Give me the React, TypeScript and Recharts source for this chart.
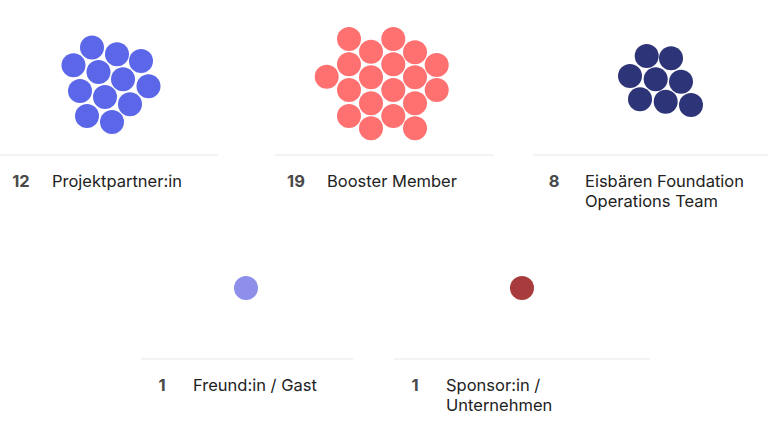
import { ScatterChart, Scatter, XAxis, YAxis, ReferenceLine } from 'recharts';

// Group counts and labels
const categories = ['Projektpartner:in', 'Booster Member', 'Eisbären Foundation Operations Team', 'Freund:in / Gast', 'Sponsor:in / Unternehmen'];
const labelLines = [
  ['Projektpartner:in'],
  ['Booster Member'],
  ['Eisbären Foundation', 'Operations Team'],
  ['Freund:in / Gast'],
  ['Sponsor:in /', 'Unternehmen'],
];
const counts = [12, 19, 8, 1, 1];
const colors = ['#5B67E8', '#FF7171', '#2E3478', '#8E8FEA', '#A83B3B'];

// Packed dot offsets per group, relative to the group's centre
const dotsProjekt = [
  [-17, -35.4], [8, -28.7], [32, -22], [-35.5, -17.7], [-10.5, -11], [14, -3.7],
  [39.5, 3.3], [-29, 8], [-4, 14], [21, 21.3], [-22, 33], [3, 39],
];
const dotsBooster = [
  [-36, -44], [8.3, -44], [-14, -31.3], [30, -30.7], [-36, -18.7], [8.3, -18.7],
  [51.7, -18], [-58.3, -6.3], [-14, -5.7], [30, -5.7], [-36, 7], [8.3, 7],
  [51.7, 7], [-14, 20.3], [30, 20.3], [-36, 33], [8.3, 33], [-14, 45.3], [30, 45.3],
];
const dotsTeam = [
  [-13.3, -26], [11, -23.7], [-30, -6], [-4.3, -2.7], [21, -0.3], [-20, 17.3], [5.7, 19.7], [31, 23],
];
const dotsSingle = [[0, 0]];
const dotLayouts = [dotsProjekt, dotsBooster, dotsTeam, dotsSingle, dotsSingle];

// Cell layout: [left, right, cluster centre x, cluster centre y, rule y]
const cells = [
  [0, 218, 109, 83, 155],
  [275, 494, 385, 83, 155],
  [533, 768, 660, 82, 155],
  [141, 353, 246, 288, 359],
  [394, 650, 522, 288, 359],
];

const W = 768;
const H = 433;
const R = 12;

const seriesData = categories.map((_, g) =>
  dotLayouts[g].slice(0, counts[g]).map(([dx, dy]) => ({ x: cells[g][2] + dx, y: cells[g][3] + dy }))
);

const Dot = (props: any) => {
  const { cx, cy, fill } = props;
  return <circle cx={cx} cy={cy} r={R} fill={fill} />;
};

export default function App() {
  return (
    <div style={{ position: 'absolute', left: 0, top: 0, width: W, height: H, background: '#fff', fontFamily: 'Inter, "Noto Sans", sans-serif' }}>
      <ScatterChart width={W} height={H} margin={{ top: 0, right: 0, bottom: 0, left: 0 }}>
        <XAxis type="number" dataKey="x" domain={[0, W]} hide />
        <YAxis type="number" dataKey="y" domain={[0, H]} reversed hide />
        {cells.map((c, i) => (
          <ReferenceLine
            key={'rule' + i}
            segment={[{ x: c[0], y: c[4] }, { x: c[1], y: c[4] }]}
            stroke="#f4f4f4"
            strokeWidth={2}
          />
        ))}
        {seriesData.map((d, g) => (
          <Scatter key={categories[g]} name={categories[g]} data={d} fill={colors[g]} shape={<Dot />} isAnimationActive={false} />
        ))}
      </ScatterChart>
      {cells.map((c, i) => (
        <div key={'lbl' + i} style={{ position: 'absolute', left: c[0], top: c[4] + 16, width: c[1] - c[0], fontSize: 16.5, lineHeight: '20px' }}>
          <div style={{ position: 'absolute', left: 0, width: 42, textAlign: 'center', fontWeight: 700, color: '#4a4a4a' }}>{counts[i]}</div>
          <div style={{ position: 'absolute', left: 52, color: '#222', whiteSpace: 'nowrap' }}>
            {labelLines[i].map((l) => (
              <div key={l}>{l}</div>
            ))}
          </div>
        </div>
      ))}
    </div>
  );
}
